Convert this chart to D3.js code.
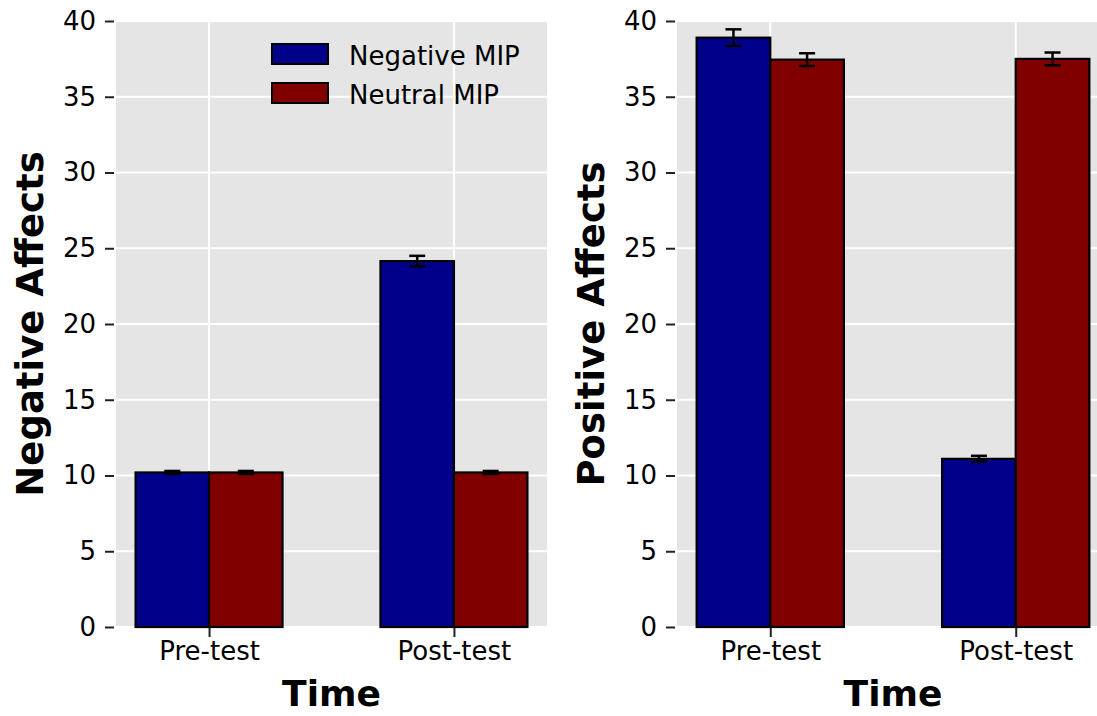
<!DOCTYPE html>
<html>
<head>
<meta charset="utf-8">
<script src="https://cdn.jsdelivr.net/npm/d3@7"></script>
<style>
  body { margin: 0; background: #fff; }
  svg { display: block; font-family: "DejaVu Sans", sans-serif; }
</style>
</head>
<body>
<div id="chart"></div>
<script>
// data
const categories = ["Pre-test", "Post-test"];
const series = ["Negative MIP", "Neutral MIP"];
const colors = ["#00008b", "#800000"];
const yTicks = [0, 5, 10, 15, 20, 25, 30, 35, 40];

const negAffectMeans = [[10.2, 24.15], [10.2, 10.2]];   // [series][category]
const negAffectErrs = [[0.1, 0.35], [0.1, 0.1]];
const posAffectMeans = [[38.9, 11.1], [37.45, 37.5]];
const posAffectErrs = [[0.55, 0.2], [0.42, 0.42]];

const width = 1097, height = 716;
const svg = d3.select("#chart").append("svg")
    .attr("width", width)
    .attr("height", height);

const barWidth = 0.3;

function drawPanel(left, right, means, errs, yLabel, showLegend) {
    const top = 21, bottom = 627;

    const x = d3.scaleLinear().domain([-0.38, 1.38]).range([left, right]);
    const y = d3.scaleLinear().domain([0, 40]).range([bottom, top]);

    const g = svg.append("g");

    // background
    g.append("rect")
        .attr("x", left).attr("y", top)
        .attr("width", right - left).attr("height", bottom - top)
        .attr("fill", "#e5e5e5");

    // grid
    g.selectAll(".hgrid").data(yTicks).enter().append("line")
        .attr("x1", left).attr("x2", right)
        .attr("y1", d => y(d)).attr("y2", d => y(d))
        .attr("stroke", "#fff").attr("stroke-width", 2);
    g.selectAll(".vgrid").data(categories).enter().append("line")
        .attr("x1", (d, i) => x(i)).attr("x2", (d, i) => x(i))
        .attr("y1", top).attr("y2", bottom)
        .attr("stroke", "#fff").attr("stroke-width", 2);

    // bars
    series.forEach((s, si) => {
        const offset = si === 0 ? -barWidth : 0;
        g.append("g").selectAll("rect")
            .data(means[si])
            .enter().append("rect")
            .attr("x", (d, i) => x(i + offset))
            .attr("y", d => y(d))
            .attr("width", x(barWidth) - x(0))
            .attr("height", d => y(0) - y(d))
            .attr("fill", colors[si])
            .attr("stroke", "#000")
            .attr("stroke-width", 2.2);
    });

    // error bars
    series.forEach((s, si) => {
        const offset = si === 0 ? -barWidth / 2 : barWidth / 2;
        means[si].forEach((m, i) => {
            const cx = x(i + offset), e = errs[si][i];
            g.append("line")
                .attr("x1", cx).attr("x2", cx)
                .attr("y1", y(m - e)).attr("y2", y(m + e))
                .attr("stroke", "#000").attr("stroke-width", 2.5);
            [m - e, m + e].forEach(v => {
                g.append("line")
                    .attr("x1", cx - 8).attr("x2", cx + 8)
                    .attr("y1", y(v)).attr("y2", y(v))
                    .attr("stroke", "#000").attr("stroke-width", 2.5);
            });
        });
    });

    // y axis
    const yAxis = d3.axisLeft(y).tickValues(yTicks).tickSize(9).tickPadding(9);
    const ya = g.append("g")
        .attr("transform", `translate(${left - 2},0)`)
        .call(yAxis);
    ya.select(".domain").remove();
    ya.selectAll(".tick line").attr("stroke", "#222").attr("stroke-width", 2);
    ya.selectAll(".tick text").attr("font-size", 26).attr("fill", "#000")
        .attr("font-family", "DejaVu Sans");

    // x axis
    const xAxis = d3.axisBottom(x).tickValues([0, 1])
        .tickFormat(d => categories[d]).tickSize(9).tickPadding(5);
    const xa = g.append("g")
        .attr("transform", `translate(0,${bottom + 1})`)
        .call(xAxis);
    xa.select(".domain").remove();
    xa.selectAll(".tick line").attr("stroke", "#222").attr("stroke-width", 2);
    xa.selectAll(".tick text").attr("font-size", 26).attr("fill", "#000")
        .attr("font-family", "DejaVu Sans");

    // axis titles
    g.append("text")
        .attr("x", (left + right) / 2)
        .attr("y", 706)
        .attr("text-anchor", "middle")
        .attr("font-size", 36).attr("font-weight", "bold")
        .text("Time");
    g.append("text")
        .attr("transform", `translate(${left - 73}, ${(top + bottom) / 2}) rotate(-90)`)
        .attr("text-anchor", "middle")
        .attr("font-size", 37).attr("font-weight", "bold")
        .text(yLabel);

    // legend
    if (showLegend) {
        const lg = g.append("g").attr("transform", "translate(272,44)");
        series.forEach((s, si) => {
            lg.append("rect")
                .attr("x", 0).attr("y", si * 39)
                .attr("width", 56).attr("height", 20)
                .attr("fill", colors[si])
                .attr("stroke", "#000").attr("stroke-width", 2);
            lg.append("text")
                .attr("x", 77).attr("y", si * 39 + 21)
                .attr("font-size", 26)
                .attr("fill", "#000")
                .text(s);
        });
    }
}

drawPanel(116, 547, negAffectMeans, negAffectErrs, "Negative Affects", true);
drawPanel(677, 1109, posAffectMeans, posAffectErrs, "Positive Affects", false);
</script>
</body>
</html>
